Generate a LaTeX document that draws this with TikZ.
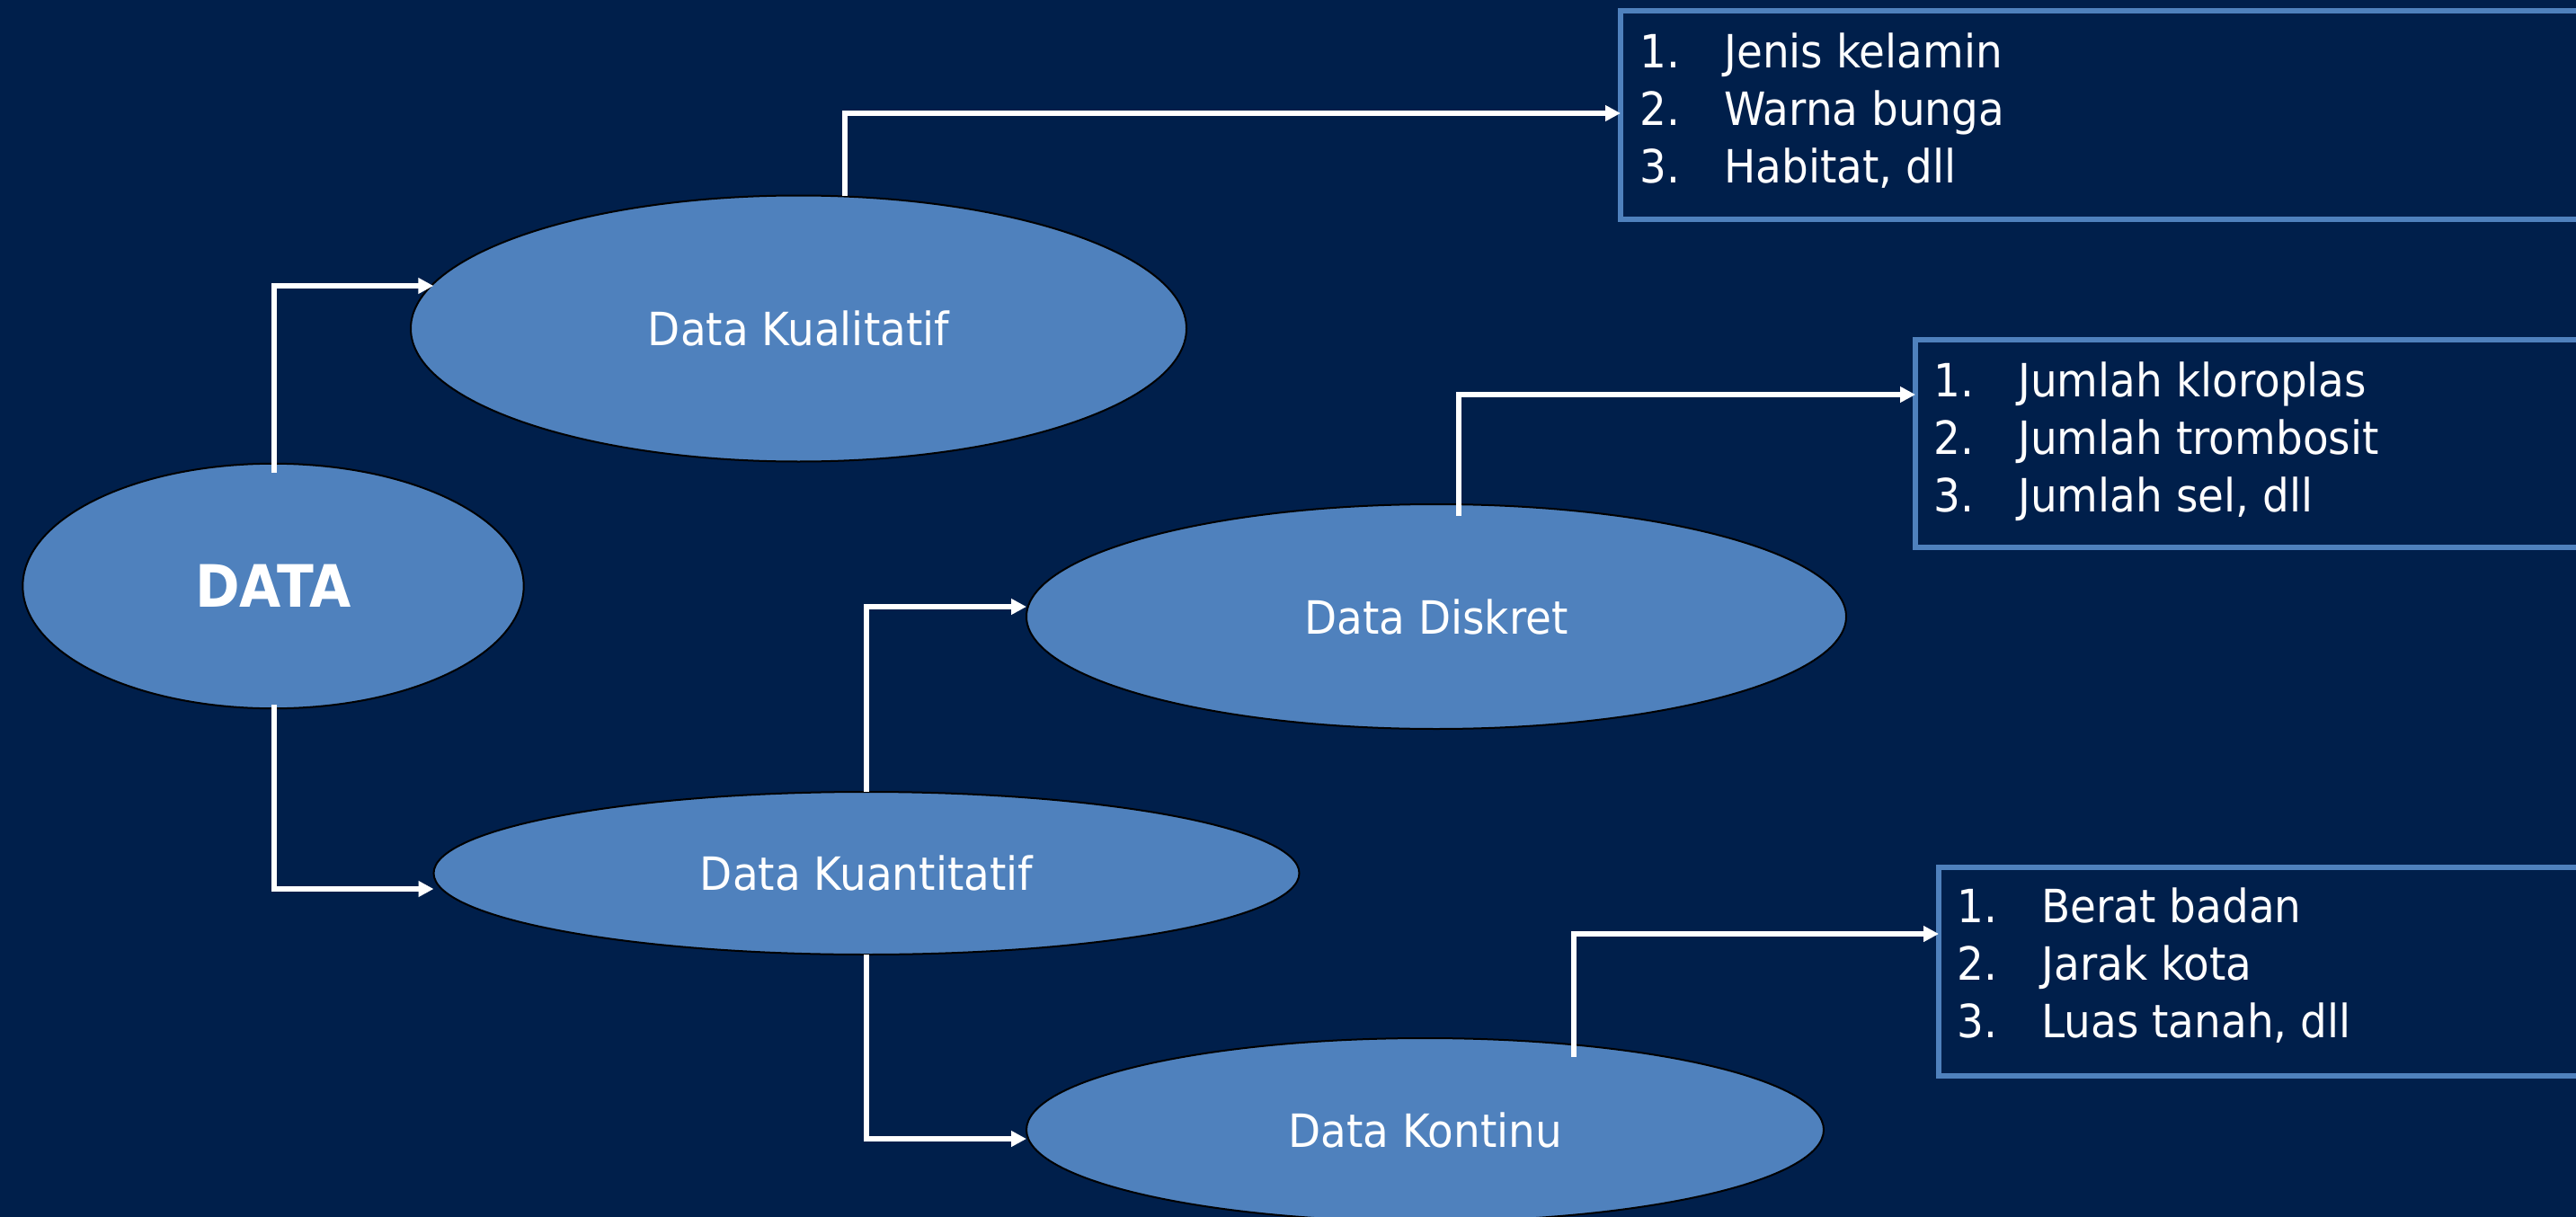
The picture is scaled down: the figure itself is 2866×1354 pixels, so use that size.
\documentclass[tikz,border=0pt]{standalone}
\usepackage{fontspec}
\setmainfont{DejaVu Sans}[FakeStretch=0.92]
\usetikzlibrary{shapes.geometric,arrows.meta,calc}
\definecolor{bgblue}{HTML}{001F4B}
\definecolor{ovalfill}{HTML}{4F81BD}
\newcommand{\listfont}{\fontsize{25.5}{32}\selectfont}
\newcommand{\itemlist}[3]{\listfont\begin{tabular}{@{}p{47pt}@{}l@{}}1.&#1\\2.&#2\\3.&#3\end{tabular}}
\begin{document}
\begin{tikzpicture}[x=0.5pt,y=-0.5pt,
  oval/.style={ellipse, draw=black, line width=1pt, fill=ovalfill, text=white,
    inner sep=0pt, outer sep=0pt, font=\fontsize{25.5}{30}\selectfont},
  listbox/.style={rectangle, draw=ovalfill, line width=3pt, inner sep=0pt, outer sep=0pt},
  listtext/.style={text=white, inner sep=0pt, anchor=west},
  conn/.style={draw=white, line width=3pt, -{Triangle[length=8.5pt,width=8.5pt]}},
]
\useasboundingbox (0,0) rectangle (2866,1354);
\clip (0,0) rectangle (2866,1354);
\fill[bgblue] (0,0) rectangle (2866,1354);

% ovals
\node[oval, minimum width=278.7pt, minimum height=136.2pt,
      font=\fontsize{32.5}{38}\selectfont\bfseries] (data) at (304,652) {DATA};
\node[oval, minimum width=431.5pt, minimum height=148pt] (kual) at (888.5,365.5) {Data Kualitatif};
\node[oval, minimum width=456pt, minimum height=125pt] (disk) at (1598,686) {Data Diskret};
\node[oval, minimum width=481.5pt, minimum height=90.5pt] (kuan) at (964,971.5) {Data Kuantitatif};
\node[oval, minimum width=443.5pt, minimum height=102pt] (kont) at (1585.5,1257) {Data Kontinu};

% list boxes
\node[listbox, minimum width=548.5pt, minimum height=116pt] (box1) at (2351.5,128) {};
\node[listbox, minimum width=384.5pt, minimum height=115.5pt] (box2) at (2515.5,493.5) {};
\node[listbox, minimum width=371.5pt, minimum height=116pt] (box3) at (2528.5,1081) {};

\node[listtext] (t1) at (1824,127) {\itemlist{Jenis kelamin}{Warna bunga}{Habitat, dll}};
\node[listtext] (t2) at (2151,493) {\itemlist{Jumlah kloroplas}{Jumlah trombosit}{Jumlah sel, dll}};
\node[listtext] (t3) at (2177,1078) {\itemlist{Berat badan}{Jarak kota}{Luas tanah, dll}};

% bend points
\coordinate (b1) at (305,318);
\coordinate (b2) at (305,989);
\coordinate (b3) at (940,126);
\coordinate (b4) at (964,675);
\coordinate (b5) at (964,1267);
\coordinate (b6) at (1623,439);
\coordinate (b7) at (1751,1039);

% connectors
\draw[conn] ($(b1 |- data.north)+(0,10)$) -- (b1) -- (b1 -| kual.173.4);
\draw[conn] ($(b2 |- data.south)+(0,-4)$) -- (b2) -- (b2 -| kuan.west);
\draw[conn] (b3 |- kual.north) -- (b3) -- (b3 -| box1.west);
\draw[conn] (b4 |- kuan.north) -- (b4) -- (b4 -| disk.west);
\draw[conn] (b5 |- kuan.south) -- (b5) -- (b5 -| kont.west);
\draw[conn] ($(b6 |- disk.north)+(0,13)$) -- (b6) -- (b6 -| box2.west);
\draw[conn] ($(b7 |- kont.north)+(0,21)$) -- (b7) -- (b7 -| box3.west);
\end{tikzpicture}
\end{document}
